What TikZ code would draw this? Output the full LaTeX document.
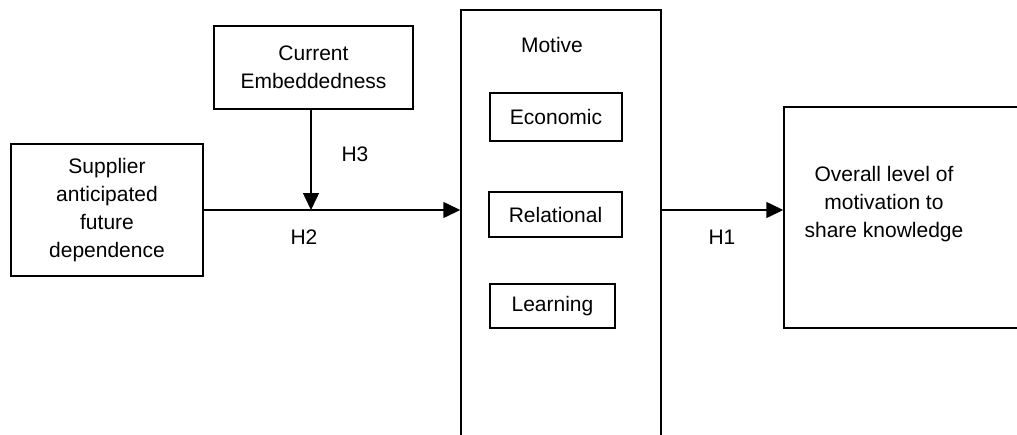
\documentclass[tikz,border=0pt]{standalone}
\usepackage{fontspec}
\setmainfont{Liberation Sans}
\usetikzlibrary{arrows.meta}
\begin{document}
\begin{tikzpicture}[x=1pt,y=-1pt,
  every node/.style={font=\fontsize{21}{28}\selectfont},
  box/.style={draw,line width=1.5pt,inner sep=0pt,align=center},
  lbl/.style={inner sep=0pt,align=center},
  conn/.style={line width=1.5pt,-{Triangle[length=17pt,width=16pt]}},
  plain/.style={line width=1.5pt}]
\useasboundingbox (0,0) rectangle (1017,434);
\clip (0,0) rectangle (1017,434);
\fill[white] (0,0) rectangle (1017,434);
\node[box,minimum width=192pt,minimum height=132pt] (sup) at (107,210) {Supplier\\anticipated\\future\\dependence};
\node[box,minimum width=199pt,minimum height=83pt] (emb) at (313.5,67.5) {Current\\Embeddedness};
\node[box,minimum width=200pt,minimum height=460pt] (motive) at (561,240) {};
\node[lbl] (mtxt) at (552,45) {Motive};
\node[box,minimum width=132pt,minimum height=48pt] (eco) at (556,117) {Economic};
\node[box,minimum width=133pt,minimum height=45pt] (rel) at (555.5,214.5) {Relational};
\node[box,minimum width=125pt,minimum height=44pt] (lea) at (552.5,306) {Learning};
\node[box,minimum width=280pt,minimum height=221pt] (ovr) at (924,217.5) {};
\node[lbl] (otxt) at (884,204) {Overall level of\\motivation to\\share knowledge};
\coordinate (j) at (311,210);
\draw[conn] (sup.east |- j) -- (j -| motive.west);
\draw[conn] (j |- emb.south) -- (j);
\draw[conn] (motive.east |- j) -- (j -| ovr.west);
\node[lbl] (h3) at (355,154) {H3};
\node[lbl] (h2) at (304,237) {H2};
\node[lbl] (h1) at (722,237) {H1};
\end{tikzpicture}
\end{document}
